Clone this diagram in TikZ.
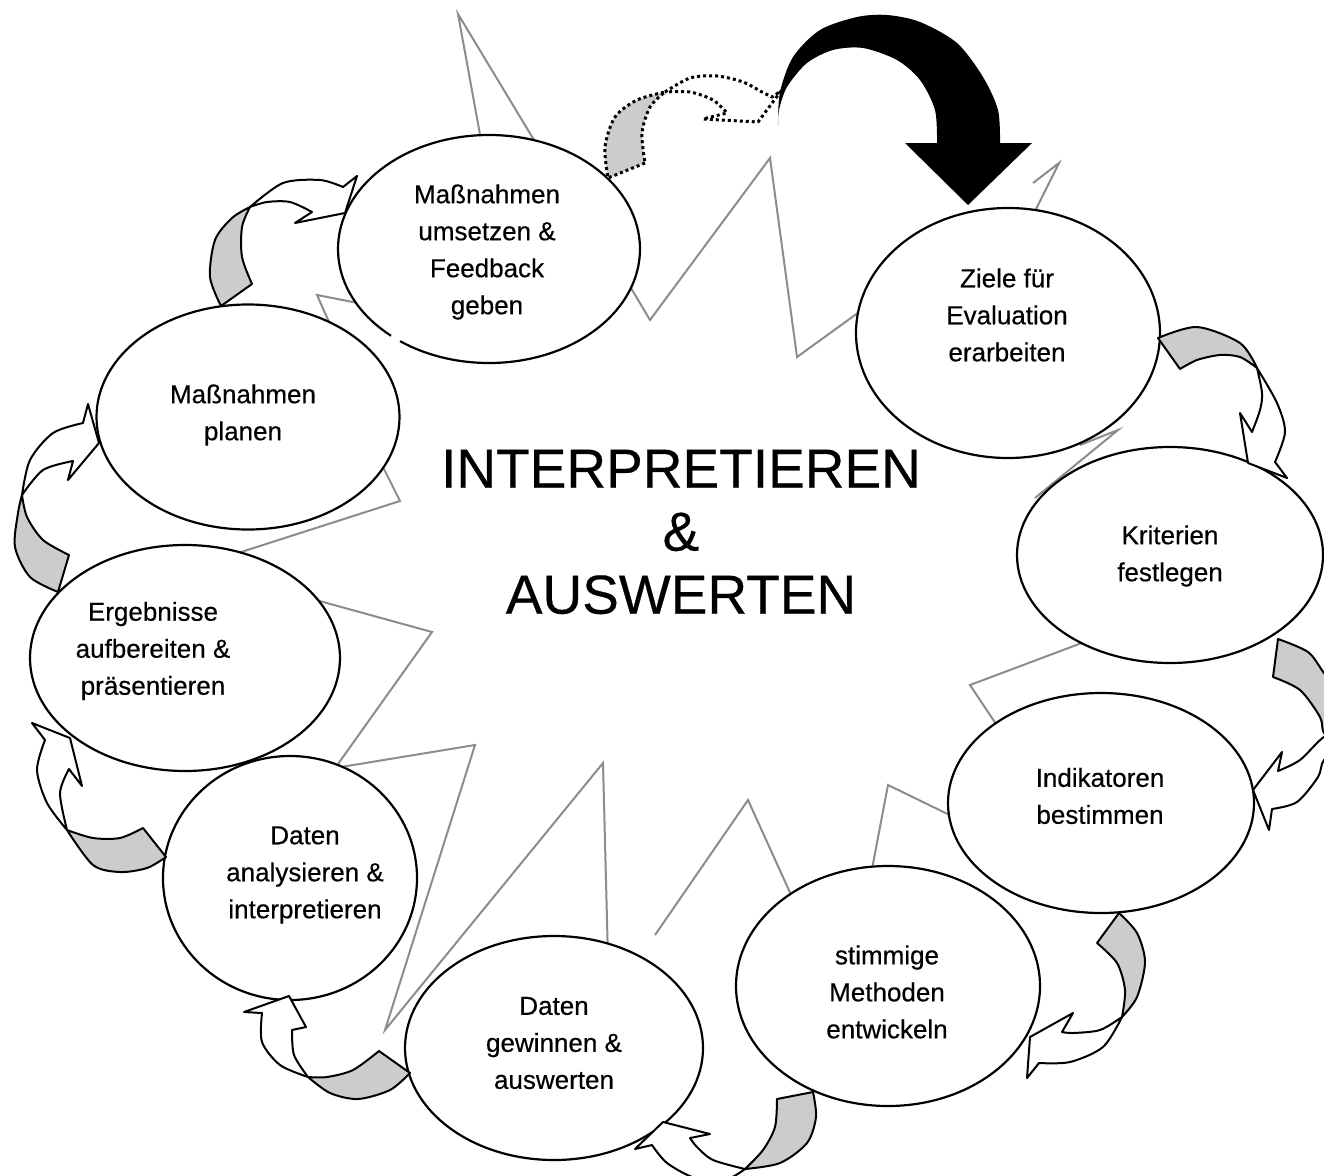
\documentclass[tikz,border=0pt]{standalone}
\usepackage{fontspec}
\setmainfont{Liberation Sans}
\newfontfamily\lblfont{Liberation Sans}[FakeBold=0.4]
\usetikzlibrary{shapes.geometric}
\definecolor{backgray}{RGB}{204,204,204}
\definecolor{burst}{RGB}{140,140,140}
\begin{document}
\begin{tikzpicture}[x=1pt,y=-1pt,
  burstline/.style={draw=burst, line width=2pt, line join=miter},
  bubble/.style={ellipse, draw=black, fill=white, line width=2.2pt, inner sep=0pt},
  lbl/.style={align=center, font=\lblfont\fontsize{26}{37}\selectfont},
  big/.style={align=center, font=\lblfont\fontsize{55}{63}\selectfont},
  backpart/.style={fill=backgray, draw=black, line width=2pt, line join=round},
  frontpart/.style={fill=white, draw=black, line width=2pt, line join=round},
  dotpart/.style={draw=black, line width=3pt, dash pattern=on 3pt off 3pt, line join=round}]
\useasboundingbox (0,0) rectangle (1324,1175);
\clip (0,0) rectangle (1324,1175);

% explosion outline (visible pieces; ends run under the bubbles)
\draw[burstline] (481,140) -- (458,14) -- (537,145);
\draw[burstline] (628,283) -- (650,320) -- (770,158) -- (797,357) -- (862,310);
\draw[burstline] (1033,183) -- (1059,163) -- (1033,215);
\draw[burstline] (1080,445) -- (1118,430) -- (1035,498);
\draw[burstline] (1095,638) -- (970,685) -- (1000,730);
\draw[burstline] (962,821) -- (888,785) -- (868,890);
\draw[burstline] (797,908) -- (748,800) -- (655,935);
\draw[burstline] (608,960) -- (603,763) -- (385,1030) -- (475,745) -- (335,768);
\draw[burstline] (338,764) -- (432,632) -- (305,597);
\draw[burstline] (238,553) -- (400,501) -- (382,465);
\draw[burstline] (358,303) -- (317,295) -- (329,322);

% bubbles
\node[bubble, minimum width=302pt, minimum height=228pt] (e1) at (489,249) {};
\node[bubble, minimum width=304pt, minimum height=250pt] (e2) at (1008,333) {};
\node[bubble, minimum width=306pt, minimum height=216pt] (e3) at (1170,555) {};
\node[bubble, minimum width=306pt, minimum height=220pt] (e4) at (1101,803) {};
\node[bubble, minimum width=304pt, minimum height=240pt] (e5) at (888,986) {};
\node[bubble, minimum width=298pt, minimum height=224pt] (e6) at (554,1048) {};
\node[bubble, minimum width=254pt, minimum height=244pt] (e7) at (290,878) {};
\node[bubble, minimum width=310pt, minimum height=226pt] (e8) at (185,658) {};
\node[bubble, minimum width=303pt, minimum height=225pt] (e9) at (248,417) {};
% small break in the outline of e1
\draw[white, line width=4pt] (391,336) -- (400,341);

% curved arrow A: Ziele -> Kriterien
\path[backpart] (1180,369) -- plot[smooth] coordinates {(1158,338) (1197,327) (1240,343) (1257,368)}
  -- plot[smooth] coordinates {(1257,368) (1240,357) (1220,355) (1197,360) (1180,369)} -- cycle;
\path[frontpart] (1257,368) -- plot[smooth] coordinates {(1257,368) (1277,403) (1285,432) (1275,462)}
  -- (1287,478) -- (1248,463) -- (1240,413) -- (1252,432)
  -- plot[smooth] coordinates {(1252,432) (1260,410) (1262,393) (1257,368)} -- cycle;

% curved arrow B: Kriterien -> Indikatoren
\path[backpart] (1273,677) -- plot[smooth] coordinates {(1278,639) (1308,652) (1324,673) (1345,700) (1350,735)}
  -- (1340,738) -- plot[smooth] coordinates {(1340,738) (1324,733) (1320,717) (1300,690) (1273,677)} -- cycle;
\path[frontpart] (1340,738) -- plot[smooth] coordinates {(1340,738) (1324,737) (1300,760) (1278,771)}
  -- (1282,752) -- (1253,790) -- (1269,830) -- (1272,809)
  -- plot[smooth] coordinates {(1272,809) (1297,802) (1318,777) (1324,760) (1345,745)} -- cycle;

% curved arrow C: Indikatoren -> Methoden
\path[backpart] (1097,943) -- plot[smooth] coordinates {(1119,913) (1137,933) (1145,962) (1137,997) (1122,1017)}
  -- plot[smooth] coordinates {(1122,1017) (1125,990) (1117,963) (1097,943)} -- cycle;
\path[frontpart] (1122,1017) -- plot[smooth] coordinates {(1122,1017) (1100,1030) (1073,1033) (1062,1032)}
  -- (1073,1013) -- (1030,1037) -- (1027,1078) -- (1039,1063)
  -- plot[smooth] coordinates {(1039,1063) (1070,1062) (1103,1047) (1122,1017)} -- cycle;

% curved arrow D: Methoden -> Daten gewinnen
\path[backpart] (777,1099) -- plot[smooth] coordinates {(813,1092) (816,1117) (807,1143) (780,1163) (745,1169)}
  -- plot[smooth] coordinates {(745,1169) (763,1150) (775,1127) (777,1099)} -- cycle;
\path[frontpart] (745,1169) -- plot[smooth] coordinates {(745,1169) (713,1160) (697,1147) (690,1138)}
  -- (710,1134) -- (663,1122) -- (635,1149) -- (652,1145)
  -- plot[smooth] coordinates {(652,1145) (667,1163) (695,1178) (725,1180) (745,1169)} -- cycle;

% curved arrow E: Daten gewinnen -> Daten analysieren
\path[backpart] (379,1051) -- plot[smooth] coordinates {(410,1073) (390,1090) (358,1099) (330,1093) (308,1077)}
  -- plot[smooth] coordinates {(308,1077) (327,1077) (353,1070) (379,1051)} -- cycle;
\path[frontpart] (308,1077) -- plot[smooth] coordinates {(308,1077) (294,1055) (292,1030)}
  -- (306,1027) -- (289,996) -- (244,1012) -- (262,1013)
  -- plot[smooth] coordinates {(262,1013) (262,1042) (280,1065) (308,1077)} -- cycle;

% curved arrow F: Daten analysieren -> Ergebnisse
\path[backpart] (143,828) -- plot[smooth] coordinates {(166,857) (147,868) (120,872) (93,865) (67,830)}
  -- plot[smooth] coordinates {(67,830) (93,838) (120,838) (143,828)} -- cycle;
\path[frontpart] (67,830) -- plot[smooth] coordinates {(67,830) (47,803) (37,770) (45,740)}
  -- (32,723) -- (70,738) -- (82,786) -- (69,769)
  -- plot[smooth] coordinates {(69,769) (60,793) (67,830)} -- cycle;

% curved arrow G: Ergebnisse -> Massnahmen planen
\path[backpart] (69,555) -- plot[smooth] coordinates {(58,592) (30,577) (15,547) (18,513) (22,495)}
  -- plot[smooth] coordinates {(22,495) (27,517) (43,540) (69,555)} -- cycle;
\path[frontpart] (22,495) -- plot[smooth] coordinates {(22,495) (30,460) (53,433) (83,423)}
  -- (88,404) -- (99,443) -- (68,480) -- (73,461)
  -- plot[smooth] coordinates {(73,461) (43,470) (22,495)} -- cycle;

% curved arrow H: planen -> umsetzen
\path[backpart] (252,284) -- plot[smooth] coordinates {(221,306) (210,277) (215,240) (232,218) (250,207)}
  -- plot[smooth] coordinates {(250,207) (242,227) (242,257) (252,284)} -- cycle;
\path[frontpart] (250,207) -- plot[smooth] coordinates {(250,207) (283,183) (320,180) (343,187)}
  -- (357,176) -- (345,213) -- (295,223) -- (312,212)
  -- plot[smooth] coordinates {(312,212) (290,202) (267,202) (250,207)} -- cycle;

% dotted arrow from umsetzen
\path[backpart, draw=none] (645,163) -- plot[smooth] coordinates {(608,178) (605,147) (615,117) (637,100) (665,92)}
  -- plot[smooth] coordinates {(665,92) (650,107) (642,133) (645,163)} -- cycle;
\path[dotpart] (645,163) -- plot[smooth] coordinates {(608,178) (605,147) (615,117) (637,100) (665,92)}
  -- plot[smooth] coordinates {(665,92) (650,107) (642,133) (645,163)} -- cycle;
\path[dotpart] (665,92) -- plot[smooth] coordinates {(665,92) (690,78) (717,76) (743,82) (762,92) (772,97)}
  -- (781,91) -- (758,122) -- (703,119) -- (727,113)
  -- plot[smooth] coordinates {(727,113) (713,100) (690,92) (665,92)};

% big black arrow into Ziele
\fill[black] plot[smooth] coordinates {(778,125) (780,92) (793,57) (820,30) (857,17) (887,15) (920,22) (957,43) (983,77) (998,110) (1000,143)}
  -- (1032,143) -- (968,205) -- (905,143) -- (937,143)
  -- plot[smooth] coordinates {(937,143) (935,110) (920,80) (897,60) (863,48) (833,50) (807,63) (787,87) (779,110) (778,125)} -- cycle;

% labels
\node[lbl] (t1) at (487,252) {Maßnahmen\\umsetzen \&\\Feedback\\geben};
\node[lbl] (t2) at (1007,315) {Ziele für\\Evaluation\\erarbeiten};
\node[lbl] (t3) at (1170,556) {Kriterien\\festlegen};
\node[lbl] (t4) at (1100,796) {Indikatoren\\bestimmen};
\node[lbl] (t5) at (887,992) {stimmige\\Methoden\\entwickeln};
\node[lbl] (t6) at (554,1043) {Daten\\gewinnen \&\\auswerten};
\node[lbl] (t7) at (305,875) {Daten\\analysieren \&\\interpretieren};
\node[lbl] (t8) at (153,651) {Ergebnisse\\aufbereiten \&\\präsentieren};
\node[lbl] (t9) at (243,415) {Maßnahmen\\planen};
\node[big] (tc) at (681,532) {INTERPRETIEREN\\\&\\AUSWERTEN};
\end{tikzpicture}
\end{document}
